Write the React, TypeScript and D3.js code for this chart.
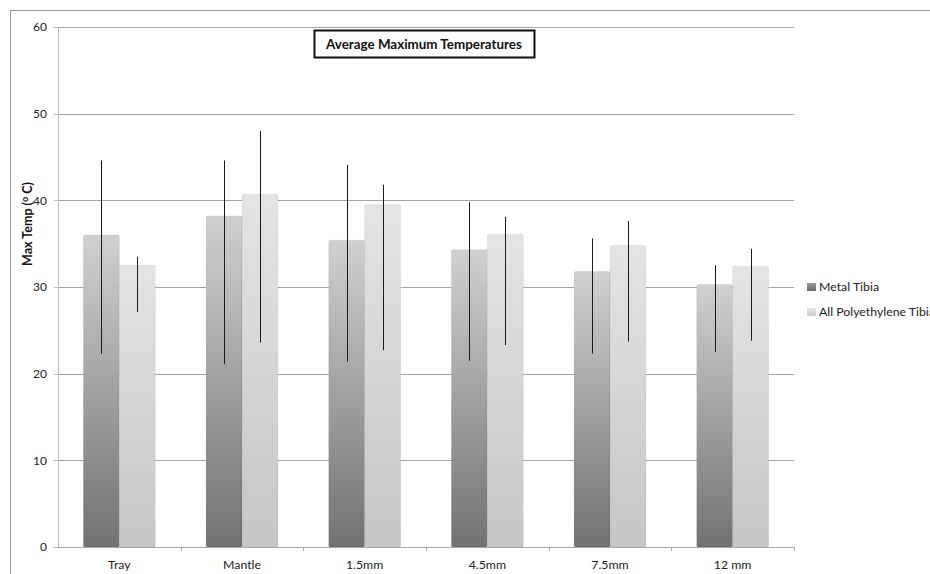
import React from "react";
import * as d3 from "d3";

const categories = ["Tray", "Mantle", "1.5mm", "4.5mm", "7.5mm", "12 mm"];
const seriesNames = ["Metal Tibia", "All Polyethylene Tibia"];
const metalMean = [36.0, 38.2, 35.4, 34.3, 31.8, 30.3];
const metalLow = [22.3, 21.1, 21.4, 21.5, 22.3, 22.5];
const metalHigh = [44.6, 44.6, 44.1, 39.8, 35.6, 32.5];
const polyMean = [32.5, 40.7, 39.5, 36.1, 34.8, 32.4];
const polyLow = [27.1, 23.6, 22.7, 23.3, 23.7, 23.8];
const polyHigh = [33.5, 48.0, 41.8, 38.1, 37.6, 34.4];
const yTicks = [0, 10, 20, 30, 40, 50, 60];

const W = 930;
const H = 574;
const plot = { left: 58, right: 794, top: 27, bottom: 547 };
const font = "Lato, 'Open Sans', sans-serif";

export default function App() {
  const x = d3
    .scaleBand<string>()
    .domain(categories)
    .range([plot.left, plot.right])
    .paddingInner(0)
    .paddingOuter(0);
  const y = d3.scaleLinear().domain([0, 60]).range([plot.bottom, plot.top]);
  const step = x.step();
  const bw = step * 0.293;

  const series = [
    { name: seriesNames[0], mean: metalMean, low: metalLow, high: metalHigh, grad: "gMetal" },
    { name: seriesNames[1], mean: polyMean, low: polyLow, high: polyHigh, grad: "gPoly" },
  ];

  return (
    <svg
      width={W}
      height={H}
      style={{ position: "absolute", left: 0, top: 0, background: "#fff" }}
    >
      <defs>
        <linearGradient id="gMetal" x1="0" y1="0" x2="0" y2="1">
          <stop offset="0%" stopColor="#d0d0d0" />
          <stop offset="100%" stopColor="#727272" />
        </linearGradient>
        <linearGradient id="gPoly" x1="0" y1="0" x2="0" y2="1">
          <stop offset="0%" stopColor="#e4e4e4" />
          <stop offset="100%" stopColor="#c6c6c6" />
        </linearGradient>
        <linearGradient id="lMetal" x1="0" y1="0" x2="0" y2="1">
          <stop offset="0%" stopColor="#9a9a9a" />
          <stop offset="100%" stopColor="#6a6a6a" />
        </linearGradient>
        <linearGradient id="lPoly" x1="0" y1="0" x2="0" y2="1">
          <stop offset="0%" stopColor="#e6e6e6" />
          <stop offset="100%" stopColor="#cccccc" />
        </linearGradient>
      </defs>

      {/* outer frame */}
      <rect x={10.5} y={10.5} width={1000} height={1000} fill="none" stroke="#9a9a9a" strokeWidth={1} />

      {/* gridlines */}
      {yTicks.slice(1).map((t) => (
        <line
          key={"g" + t}
          x1={plot.left}
          x2={plot.right}
          y1={Math.round(y(t)) + 0.5}
          y2={Math.round(y(t)) + 0.5}
          stroke="#a3a3a3"
          strokeWidth={1}
        />
      ))}

      {/* y axis */}
      <line x1={plot.left + 0.5} x2={plot.left + 0.5} y1={plot.top} y2={plot.bottom} stroke="#bdbdbd" />
      {yTicks.map((t) => (
        <g key={"yt" + t}>
          <line
            x1={plot.left - 4}
            x2={plot.left}
            y1={Math.round(y(t)) + 0.5}
            y2={Math.round(y(t)) + 0.5}
            stroke="#bdbdbd"
          />
          <text
            x={plot.left - 11}
            y={y(t)}
            dy="0.35em"
            textAnchor="end"
            fontSize={12}
            fontFamily={font}
            fill="#222"
          >
            {t}
          </text>
        </g>
      ))}

      {/* bars */}
      {series.map((s, si) =>
        categories.map((c, i) => {
          const cx = (x(c) as number) + step / 2;
          const bx = cx - bw + si * bw;
          const top = y(s.mean[i]);
          return (
            <g key={s.name + c}>
              <rect
                x={bx}
                y={top}
                width={bw}
                height={plot.bottom - top}
                fill={`url(#${s.grad})`}
                rx={1.5}
                stroke="rgba(0,0,0,0.06)"
                strokeWidth={1}
              />
            </g>
          );
        })
      )}

      {/* error bars */}
      {series.map((s, si) =>
        categories.map((c, i) => {
          const cx = (x(c) as number) + step / 2;
          const ex = Math.round(cx - bw / 2 + si * bw) + 0.5;
          return (
            <line
              key={"e" + s.name + c}
              x1={ex}
              x2={ex}
              y1={y(s.high[i])}
              y2={y(s.low[i])}
              stroke="#1a1a1a"
              strokeWidth={1}
            />
          );
        })
      )}

      {/* x axis */}
      <line x1={plot.left} x2={plot.right} y1={plot.bottom + 0.5} y2={plot.bottom + 0.5} stroke="#a9a9a9" />
      {categories.map((c) => (
        <line
          key={"xt" + c}
          x1={Math.round((x(c) as number) + step) + 0.5}
          x2={Math.round((x(c) as number) + step) + 0.5}
          y1={plot.bottom}
          y2={plot.bottom + 4}
          stroke="#a9a9a9"
        />
      ))}
      {categories.map((c) => (
        <text
          key={"xl" + c}
          x={(x(c) as number) + step / 2}
          y={565}
          dy="0.35em"
          textAnchor="middle"
          fontSize={12.3}
          fontFamily={font}
          fill="#222"
        >
          {c}
        </text>
      ))}

      {/* y label */}
      <text
        transform={`translate(32,224) rotate(-90)`}
        textAnchor="middle"
        fontSize={12.5}
        fontWeight="bold"
        fontFamily={font}
        fill="#111"
      >
        Max Temp (<tspan fontSize={9} dy={-4}>o</tspan><tspan dy={4}> C)</tspan>
      </text>

      {/* title box */}
      <rect x={314.5} y={30.5} width={220} height={27} fill="#fff" stroke="#111" strokeWidth={2} />
      <text
        x={424}
        y={44}
        dy="0.35em"
        textAnchor="middle"
        fontSize={13.4}
        fontWeight="bold"
        fontFamily={font}
        fill="#111"
      >
        Average Maximum Temperatures
      </text>

      {/* legend */}
      {series.map((s, si) => (
        <g key={"lg" + s.name} transform={`translate(807,${283 + si * 25})`}>
          <rect x={0} y={0} width={9} height={8} fill={si === 0 ? "url(#lMetal)" : "url(#lPoly)"} />
          <text x={12} y={4} dy="0.35em" fontSize={12.3} fontFamily={font} fill="#222">
            {s.name}
          </text>
        </g>
      ))}
    </svg>
  );
}
